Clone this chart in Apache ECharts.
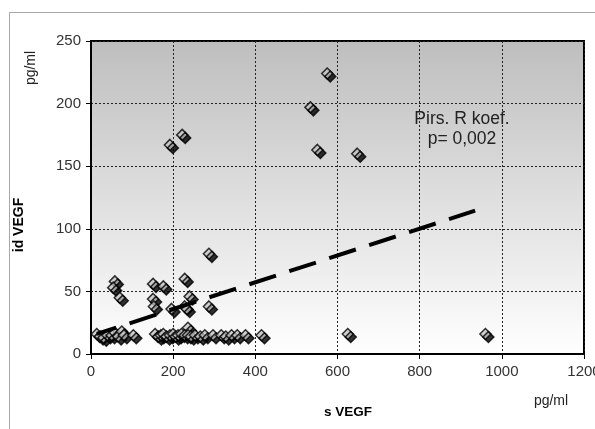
<!DOCTYPE html>
<html>
<head>
<meta charset="utf-8">
<script src="https://cdn.jsdelivr.net/npm/echarts@6/dist/echarts.min.js"></script>
<style>
  html, body { margin: 0; padding: 0; background: #fff; }
  #chart { width: 595px; height: 429px; }
</style>
</head>
<body>
<div id="chart"></div>
<script>
// serum VEGF (x) vs. id VEGF (y), pg/ml
const sVEGF = [
  192, 222, 534, 575, 551, 648,
  58, 54, 70, 151, 176, 151, 153, 196, 228, 240, 228, 233, 287, 287, 236,
  14, 22, 30, 40, 50, 58, 66, 75, 80, 103,
  156, 164, 170, 176, 184, 192, 200, 206, 212, 220, 228, 236, 243, 253,
  266, 277, 297, 317, 328, 342, 356, 376, 415, 625, 960
];
const idVEGF = [
  167, 175, 197, 224, 163, 160,
  58, 53, 45, 56, 54, 44, 38, 36, 60, 46, 38, 36, 80, 38, 21,
  16, 14, 13, 15, 15, 17, 14, 18, 15, 15,
  16, 14, 15, 16, 14, 15, 16, 14, 15, 16, 15, 15, 14, 15,
  14, 15, 15, 15, 14, 15, 15, 15, 15, 16, 16
];
// linear trend endpoints
const trendX = [14, 935];
const trendY = [16, 114.5];

const xTicks = { min: 0, max: 1200, interval: 200 };
const yTicks = { min: 0, max: 250, interval: 50 };

const points = sVEGF.map((x, i) => [x, idVEGF[i]]);
const trend = trendX.map((x, i) => [x, trendY[i]]);

const chart = echarts.init(document.getElementById('chart'), null, { renderer: 'canvas' });
const font = 'Liberation Sans, Arial, sans-serif';
const plain = v => String(v);

chart.setOption({
  animation: false,
  grid: {
    left: 91, top: 41, right: 11, bottom: 75,
    outerBoundsMode: 'none',
    containLabel: false,
    show: true,
    borderColor: '#000',
    borderWidth: 2,
    backgroundColor: new echarts.graphic.LinearGradient(0, 0, 0, 1, [
      { offset: 0, color: '#bebebe' },
      { offset: 1, color: '#ffffff' }
    ])
  },
  xAxis: {
    type: 'value',
    min: xTicks.min, max: xTicks.max, interval: xTicks.interval,
    axisLine: { show: true, lineStyle: { color: '#000', width: 2 } },
    axisTick: { show: true, length: 5, lineStyle: { color: '#000', width: 1 } },
    axisLabel: { color: '#333', fontSize: 15, fontFamily: font, margin: 10, formatter: plain, hideOverlap: false },
    splitLine: { show: true, lineStyle: { color: '#222', width: 1, type: [2, 2] } }
  },
  yAxis: {
    type: 'value',
    min: yTicks.min, max: yTicks.max, interval: yTicks.interval,
    axisLine: { show: true, lineStyle: { color: '#000', width: 2 } },
    axisTick: { show: true, length: 5, lineStyle: { color: '#000', width: 1 } },
    axisLabel: { color: '#333', fontSize: 15, fontFamily: font, margin: 10, formatter: plain },
    splitLine: { show: true, lineStyle: { color: '#222', width: 1, type: [2, 2] } }
  },
  series: [
    {
      type: 'scatter',
      data: points,
      symbol: 'diamond',
      symbolSize: [11, 11],
      itemStyle: {
        color: '#c4c4c4',
        borderColor: '#000',
        borderWidth: 1.5,
        shadowColor: '#000',
        shadowBlur: 0,
        shadowOffsetX: 3,
        shadowOffsetY: 3
      },
      z: 3
    },
    {
      type: 'line',
      data: trend,
      symbol: 'none',
      lineStyle: { color: '#000', width: 4, type: [28, 14], dashOffset: 7.5, cap: 'butt' },
      z: 4
    }
  ],
  graphic: [
    {
      type: 'polyline',
      shape: { points: [[9.5, 429], [9.5, 12.5], [595, 12.5]] },
      style: { stroke: '#a8a8a8', lineWidth: 1, fill: null }
    },
    {
      type: 'text',
      x: 462, y: 129,
      style: {
        text: 'Pirs. R koef.\np= 0,002',
        x: 0, y: 0,
        align: 'center', verticalAlign: 'middle',
        fontSize: 17.5, lineHeight: 20, fontFamily: font, fill: '#222'
      },
      z: 10
    },
    {
      type: 'text',
      style: {
        text: 'id VEGF', x: 0, y: 0, align: 'center', verticalAlign: 'middle',
        fontSize: 14, fontWeight: 'bold', fontFamily: font, fill: '#000'
      },
      x: 19, y: 225, rotation: Math.PI / 2
    },
    {
      type: 'text',
      style: {
        text: 'pg/ml', x: 0, y: 0, align: 'center', verticalAlign: 'middle',
        fontSize: 14, fontFamily: font, fill: '#222'
      },
      x: 31, y: 68, rotation: Math.PI / 2
    },
    {
      type: 'text',
      x: 348, y: 412,
      style: {
        text: 's VEGF', x: 0, y: 0, align: 'center', verticalAlign: 'middle',
        fontSize: 13.5, fontWeight: 'bold', fontFamily: font, fill: '#000'
      }
    },
    {
      type: 'text',
      x: 551, y: 401,
      style: {
        text: 'pg/ml', x: 0, y: 0, align: 'center', verticalAlign: 'middle',
        fontSize: 14, fontFamily: font, fill: '#222'
      }
    }
  ]
});
</script>
</body>
</html>
